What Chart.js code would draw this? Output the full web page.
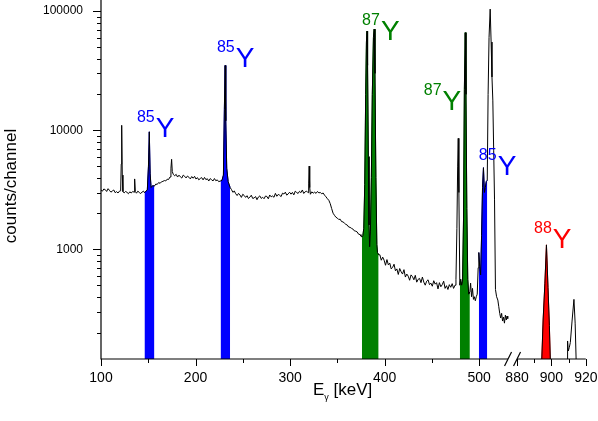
<!DOCTYPE html>
<html>
<head>
<meta charset="utf-8">
<script src="https://cdn.jsdelivr.net/npm/chart.js@4.4.1/dist/chart.umd.min.js"></script>
<style>
  html, body { margin: 0; padding: 0; background: #fff; }
</style>
</head>
<body>
<canvas id="spectrum" width="598" height="421"></canvas>
<script>
// 1. Spectrum, [keV, counts/channel]
// part below the axis break
const lowSpectrum = [
  [100, 3150], [101.5, 3080], [103, 3210], [104.5, 3170], [106, 3060], [107.5, 3230], [109, 3120], [110.5, 3020],
  [112, 3090], [113.5, 3150], [115, 2990], [116.5, 3050], [118, 2970], [119.5, 3080], [120.8, 3100], [121.4, 5200],
  [121.9, 11000], [122.5, 4200], [123.2, 3050], [124.5, 2980], [126, 3060], [127.5, 3010], [129, 2930], [130.5, 3040],
  [132, 2970], [133.5, 3060], [135, 3020], [135.6, 3900], [136.3, 3060], [137.5, 2960], [139, 3080], [140.5, 3000],
  [142, 2940], [143.5, 3030], [145, 3080], [146, 2990], [147.5, 3080], [149, 3150], [150.2, 5000], [151.1, 9700],
  [152, 4300], [153, 3300], [154.5, 3420], [156.5, 3400], [158, 3530], [159.5, 3510], [161, 3640], [162.5, 3580],
  [164, 3690], [165.5, 3720], [167, 3780], [168.5, 3750], [170, 3880], [171.5, 3860], [173, 4050], [174, 4800],
  [174.7, 5700], [175.4, 4500], [176.5, 4250], [178, 4150], [179.5, 4260], [181, 4045], [182.5, 4195], [184, 4060],
  [185.5, 3965], [187, 4200], [188.5, 4105], [190, 3975], [191.5, 4125], [193, 4030], [194.5, 3900], [196, 4085],
  [197.5, 3955], [199, 4100], [200.5, 3890], [202, 4000], [203.5, 3830], [205, 3935], [206.5, 4000], [208, 3830],
  [209.5, 4015], [211, 3845], [212.5, 3915], [214, 3745], [215.5, 3925], [217, 3840], [218.5, 3750], [220, 3930],
  [221.5, 3765], [223, 3830], [224.5, 3700], [226.5, 3750], [228, 3800], [229.5, 4200], [230.5, 15000], [231.3, 35000],
  [232, 12000], [233, 4800], [234.5, 3700], [236.6, 3300], [238, 3180], [239.5, 3010], [241, 3090], [242.5, 2930],
  [244, 2830], [245.5, 2950], [247, 2860], [248.5, 2730], [250, 2900], [251.5, 2830], [253, 2730], [254.5, 2820],
  [256, 2670], [257.5, 2745], [259, 2845], [260.5, 2675], [262, 2700], [263.5, 2775], [265, 2610], [266.5, 2750],
  [268, 2810], [269.5, 2675], [271, 2735], [272.5, 2660], [274, 2800], [275.5, 2780], [277, 2655], [278.5, 2860],
  [280, 2760], [281.5, 2805], [283, 2735], [284.5, 2950], [286, 2790], [287.5, 2890], [289, 2845], [290.5, 2770],
  [292, 2960], [293.5, 2915], [295, 3020], [296.5, 2850], [298, 2920], [299.5, 3015], [301, 2905], [302.5, 3005],
  [304, 2865], [305.5, 3080], [307, 3000], [308.5, 2945], [310, 3070], [311.5, 2990], [313, 3150], [314.5, 2945],
  [316, 3043], [317.5, 3080], [319, 2990], [319.7, 3600], [320.2, 5000], [320.8, 3300], [321.5, 2900], [323, 3040],
  [324.5, 2960], [326, 3020], [327.5, 2950], [329, 3060], [330.5, 2980], [332, 3000], [333.5, 2930], [335, 2970],
  [336.5, 2850], [338, 2760], [339.5, 2660], [341, 2580], [342.5, 2420], [344, 2200], [345.5, 2010], [347, 1930],
  [348.5, 1860], [350, 1830], [351.5, 1780], [353, 1790], [354.5, 1710], [356, 1700], [357.5, 1660], [359, 1620],
  [360.5, 1600], [362, 1540], [363.5, 1530], [365, 1500], [366.5, 1480], [368, 1430], [369.5, 1420], [371, 1400],
  [372.5, 1340], [374, 1330], [375, 1290], [376, 1270], [377, 1300], [378, 1500], [379, 3500], [380, 20000],
  [380.8, 55000], [381.4, 68000], [382, 35000], [382.8, 6000], [383.5, 1600], [384.2, 1050], [385, 1400], [386, 4000],
  [387, 20000], [388.2, 60000], [389, 70600], [389.8, 30000], [390.8, 4000], [391.8, 1100], [392.5, 940], [393.7, 900],
  [395, 900], [396.5, 810], [398, 860], [399.5, 810], [401, 735], [402.5, 820], [404, 740], [405.5, 765],
  [407, 685], [408.5, 705], [410, 750], [411.5, 660], [413, 685], [414.5, 615], [416, 690], [417.5, 648],
  [419, 620], [420.5, 675], [422, 585], [423.5, 620], [425, 595], [426.5, 550], [428, 610], [429.5, 590],
  [431, 555], [432.5, 605], [434, 530], [435.5, 560], [437, 570], [438.5, 525], [440, 585], [441.5, 530],
  [443, 500], [444.5, 540], [446, 555], [447.5, 505], [449, 520], [450.5, 490], [452, 545], [453.5, 510],
  [455, 525], [456.5, 465], [458, 525], [459.5, 485], [461, 505], [462.5, 540], [464, 470], [465.5, 495],
  [467, 460], [468.5, 505], [470, 480], [471.5, 515], [473, 470], [474.5, 500], [475.5, 560], [476.5, 1500],
  [477.3, 5000], [477.9, 8550], [478.6, 3000], [479.6, 500], [480.5, 560], [481.5, 500], [482.5, 540], [483.5, 1800],
  [484.4, 22000], [485.3, 66000], [486.1, 20000], [487, 2200], [488, 560], [489, 420], [490.2, 440], [491, 520],
  [492, 400], [493, 470], [494, 380], [495, 400], [496, 370], [497, 400], [498, 420], [499, 700],
  [499.7, 940], [500.6, 720], [501.6, 610], [502.6, 1300], [503.6, 3300], [504.6, 4850], [505.6, 3000], [506.6, 3300],
  [507.5, 3700], [508.6, 3800], [509.5, 20000], [510.5, 60000], [511.7, 104000], [512.7, 55000], [513.6, 28000], [514.5, 17900],
  [515.4, 6800], [516.3, 2600], [517.3, 460], [518.5, 400], [519.8, 375], [520.8, 330], [521.8, 290], [522.8, 265],
  [523.8, 290], [524.8, 250], [525.8, 270], [526.8, 240], [527.8, 280], [528.8, 255], [529.5, 275], [530.3, 262]
];
// part above the axis break
const highSpectrum = [
  [880, 80], [884, 85], [888, 80], [891, 90], [893, 95], [894.2, 100], [895.2, 260], [896.2, 520],
  [897.1, 1090], [898, 480], [898.8, 230], [899.4, 110], [901, 90], [904, 85], [907, 90], [909.2, 100],
  [909.4, 170], [909.8, 140], [910.4, 150], [911, 165], [912, 250], [913.1, 380], [913.8, 240], [914.5, 100],
  [916, 85], [920, 80]
];

// 2. Shaded yttrium lines (keV)
const bandFrom = [146, 226.5, 376, 479.6, 499.7, 894.2];
const bandTo = [156.5, 236.6, 393.7, 490.2, 508.6, 899.4];
const bandColor = ['#0000ff', '#0000ff', '#008000', '#008000', '#0000ff', '#ff0000'];

// 3. Isotope labels, anchored at (keV, counts)
const labelMass = ['85', '85', '87', '87', '85', '88'];
const labelEnergy = [138, 222.6, 376.2, 441.5, 499.7, 889.9];
const labelCounts = [8770, 33900, 57100, 14900, 4210, 1020];
const labelColor = ['#0000ff', '#0000ff', '#008000', '#008000', '#0000ff', '#ff0000'];

// 4. Ticks
const xTickValues = [100, 200, 300, 400, 500, 880, 900, 920];
const xTickLabels = ['100', '200', '300', '400', '500', '880', '900', '920'];
const xMinorTicks = [150, 250, 350, 450, 890, 910];
const yTickValues = [1000, 10000, 100000];
const yTickLabels = ['1000', '10000', '100000'];
const yMinorTicks = [200, 300, 400, 500, 600, 700, 800, 900,
  2000, 3000, 4000, 5000, 6000, 7000, 8000, 9000,
  20000, 30000, 40000, 50000, 60000, 70000, 80000, 90000];

const FONT = "'Liberation Sans', Arial, sans-serif";
const LOW_END = 530.6;   // where the left part of the axis stops

// broken axis: energies above the break are squeezed onto the end of the scale
function axisPos(e) {
  return e < 700 ? e : 576.5 + (e - 900) * 1.8186;
}

const toPoint = p => ({ x: axisPos(p[0]), y: p[1] });
const gap = { x: (axisPos(LOW_END) + axisPos(highSpectrum[0][0])) / 2, y: null };
const allPairs = [...lowSpectrum, ...highSpectrum];

const bandSets = bandFrom.map((from, k) => ({
  data: allPairs.filter(p => p[0] >= from && p[0] <= bandTo[k]).map(toPoint),
  borderColor: bandColor[k],
  backgroundColor: bandColor[k],
  borderWidth: 1,
  pointRadius: 0,
  fill: 'start',
  order: 1
}));

// 5. Axis lines, break marks, tick marks, isotope labels, titles
const decorations = {
  id: 'decorations',
  afterDraw(chart) {
    const { ctx, chartArea: a, scales: { x, y } } = chart;
    const bottom = a.bottom;
    ctx.save();
    ctx.strokeStyle = '#000';
    ctx.fillStyle = '#000';
    ctx.lineWidth = 1.2;

    // axis lines
    ctx.beginPath();
    ctx.moveTo(a.left, a.top);
    ctx.lineTo(a.left, bottom);
    ctx.lineTo(x.getPixelForValue(axisPos(LOW_END)), bottom);
    ctx.moveTo(x.getPixelForValue(axisPos(880)), bottom);
    ctx.lineTo(x.getPixelForValue(axisPos(920)), bottom);
    ctx.stroke();

    // break slashes
    [LOW_END, 880].forEach(e => {
      const cx = x.getPixelForValue(axisPos(e));
      ctx.beginPath();
      ctx.moveTo(cx - 3.5, bottom + 7);
      ctx.lineTo(cx + 3.5, bottom - 7);
      ctx.stroke();
    });

    // tick marks
    ctx.lineWidth = 1;
    ctx.beginPath();
    xTickValues.forEach(e => {
      const px = Math.round(x.getPixelForValue(axisPos(e))) + 0.5;
      ctx.moveTo(px, bottom); ctx.lineTo(px, bottom + 7);
    });
    xMinorTicks.forEach(e => {
      const px = Math.round(x.getPixelForValue(axisPos(e))) + 0.5;
      ctx.moveTo(px, bottom); ctx.lineTo(px, bottom + 4);
    });
    yTickValues.forEach(v => {
      const py = Math.round(y.getPixelForValue(v)) + 0.5;
      ctx.moveTo(a.left, py); ctx.lineTo(a.left - 8, py);
    });
    yMinorTicks.forEach(v => {
      const py = Math.round(y.getPixelForValue(v)) + 0.5;
      ctx.moveTo(a.left, py); ctx.lineTo(a.left - 4, py);
    });
    ctx.stroke();

    // isotope labels
    ctx.textAlign = 'left';
    ctx.textBaseline = 'alphabetic';
    labelMass.forEach((m, i) => {
      const px = x.getPixelForValue(axisPos(labelEnergy[i]));
      const py = y.getPixelForValue(labelCounts[i]);
      ctx.fillStyle = labelColor[i];
      ctx.font = '16px ' + FONT;
      ctx.fillText(m, px, py - 15);
      const w = ctx.measureText(m).width;
      ctx.font = '28px ' + FONT;
      ctx.fillText('Y', px + w + 1, py);
    });

    // x title: E with subscript gamma
    ctx.fillStyle = '#000';
    ctx.font = '17px ' + FONT;
    let tx = 313;
    ctx.fillText('E', tx, 395);
    tx += ctx.measureText('E').width;
    ctx.font = '9px ' + FONT;
    ctx.fillText('\u03b3', tx, 400);
    tx += ctx.measureText('\u03b3').width;
    ctx.font = '17px ' + FONT;
    ctx.fillText(' [keV]', tx, 395);

    // y title
    ctx.translate(16, 186);
    ctx.rotate(-Math.PI / 2);
    ctx.textAlign = 'center';
    ctx.fillText('counts/channel', 0, 0);
    ctx.restore();
  }
};

Chart.defaults.font.family = FONT;

new Chart(document.getElementById('spectrum'), {
  type: 'line',
  data: {
    datasets: [
      {
        data: [...lowSpectrum.map(toPoint), gap, ...highSpectrum.map(toPoint)],
        borderColor: '#000',
        borderWidth: 1,
        pointRadius: 0,
        tension: 0,
        fill: false,
        spanGaps: false,
        order: 0
      },
      ...bandSets
    ]
  },
  options: {
    responsive: false,
    animation: false,
    devicePixelRatio: 1,
    events: [],
    layout: { padding: { left: 0, right: 12, top: 0, bottom: 0 } },
    plugins: { legend: { display: false }, tooltip: { enabled: false } },
    scales: {
      x: {
        type: 'linear',
        min: 100,
        max: axisPos(920) + 0.2,
        border: { display: false },
        grid: { display: false, drawTicks: false },
        ticks: {
          autoSkip: false,
          maxRotation: 0,
          padding: 11,
          color: '#000',
          font: { size: 14 },
          callback: (v, i) => xTickLabels[i]
        },
        afterBuildTicks: s => { s.ticks = xTickValues.map(e => ({ value: axisPos(e) })); },
        afterFit: s => { s.height = 62; s.paddingLeft = 0; s.paddingRight = 0; }
      },
      y: {
        type: 'logarithmic',
        min: 120,
        max: 124000,
        border: { display: false },
        grid: { display: false, drawTicks: false },
        ticks: {
          padding: 18,
          color: '#000',
          font: { size: 12 },
          callback: (v, i) => yTickLabels[i]
        },
        afterBuildTicks: s => { s.ticks = yTickValues.map(v => ({ value: v })); },
        afterFit: s => { s.width = 101; s.paddingTop = 0; s.paddingBottom = 0; }
      }
    }
  },
  plugins: [decorations]
});
</script>
</body>
</html>
